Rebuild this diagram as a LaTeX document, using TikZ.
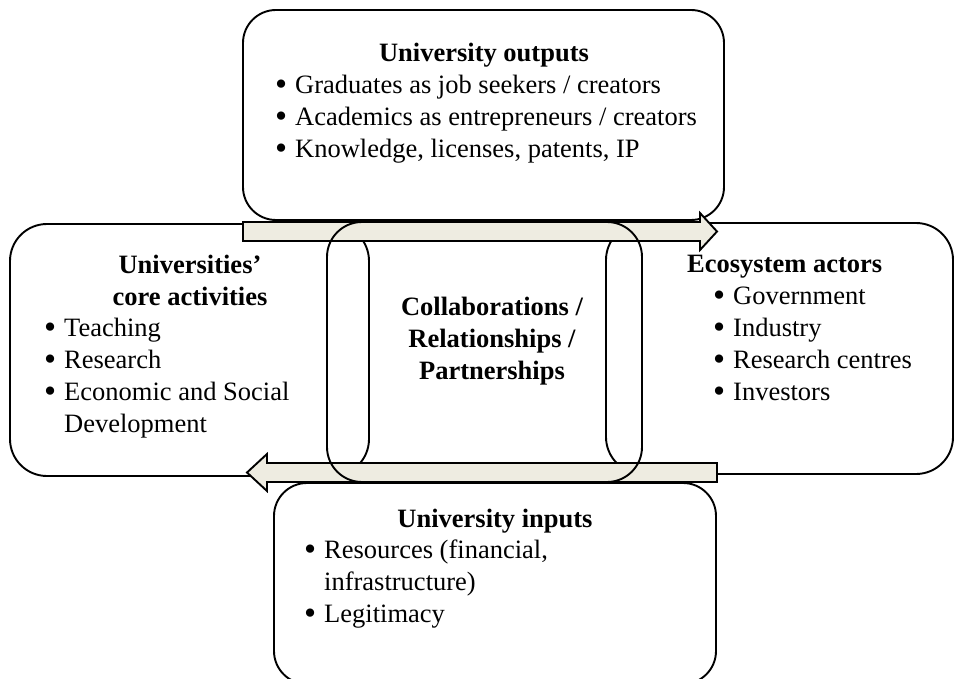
\documentclass[tikz,border=0pt]{standalone}
\usepackage{fontspec}
\setmainfont{Liberation Serif}
\definecolor{shaft}{HTML}{EEECE1}
\newcommand{\diagfont}{\fontsize{26.5}{32}\selectfont}
\newcommand{\itm}[1]{\makebox[20pt][l]{\raisebox{-2pt}{\scalebox{1.3}{\textbullet}}}#1}
\newcommand{\cont}[1]{\hspace*{20pt}#1}
\tikzset{
  panel/.style={draw, line width=1.9pt, rounded corners=35pt, inner sep=0pt},
  flow/.style={draw, line width=1.9pt, fill=shaft},
  heading/.style={font=\diagfont\bfseries, anchor=base, inner sep=0pt},
  items/.style={font=\diagfont, anchor=base west, inner sep=0pt},
}
\begin{document}
\begin{tikzpicture}[x=1pt, y=-1pt]
    \clip (0,0) rectangle (955,679);
    % the four boxes
    \node[panel, minimum width=481pt, minimum height=210pt, rounded corners=33pt] (outputs) at (483.5,115) {};
    \node[panel, minimum width=359pt, minimum height=252pt, rounded corners=37pt] (core) at (189.5,350) {};
    \node[panel, minimum width=347pt, minimum height=251pt, rounded corners=37pt] (actors) at (779.5,348.5) {};
    \node[panel, minimum width=442pt, minimum height=201pt, rounded corners=33pt] (inputs) at (495,583.5) {};

    % block arrows
    \draw[flow] (243,222) -- (700,222) -- (700,213) -- (717,231.5) -- (700,250) -- (700,241) -- (243,241) -- cycle;
    \draw[flow] (717,463) -- (267,463) -- (267,454) -- (247,472.5) -- (267,491) -- (267,482) -- (717,482) -- cycle;

    % centre
    \node[panel, minimum width=315pt, minimum height=260pt] (links) at (484.5,352) {};

    % texts
    \node[heading] (outputs title) at (484,62) {University outputs};
    \node[items] (outputs list) at (275,94) {\begin{tabular}[t]{@{}l@{}}
        \itm{Graduates as job seekers / creators}\\
        \itm{Academics as entrepreneurs / creators}\\
        \itm{Knowledge, licenses, patents, IP}
      \end{tabular}};

    \node[heading] (core title) at (190,273) {\begin{tabular}[t]{@{}c@{}}Universities’\\core activities\end{tabular}};
    \node[items] (core list) at (44,336) {\begin{tabular}[t]{@{}l@{}}
        \itm{Teaching}\\
        \itm{Research}\\
        \itm{Economic and Social}\\
        \cont{Development}
      \end{tabular}};

    \node[heading] (links title) at (492,315) {\begin{tabular}[t]{@{}c@{}}Collaborations /\\Relationships /\\Partnerships\end{tabular}};

    \node[heading, anchor=base west] (actors title) at (687,272) {Ecosystem actors};
    \node[items] (actors list) at (713,304) {\begin{tabular}[t]{@{}l@{}}
        \itm{Government}\\
        \itm{Industry}\\
        \itm{Research centres}\\
        \itm{Investors}
      \end{tabular}};

    \node[heading] (inputs title) at (495,527) {University inputs};
    \node[items] (inputs list) at (304,558) {\begin{tabular}[t]{@{}l@{}}
        \itm{Resources (financial,}\\
        \cont{infrastructure)}\\
        \itm{Legitimacy}
      \end{tabular}};
\end{tikzpicture}
\end{document}
